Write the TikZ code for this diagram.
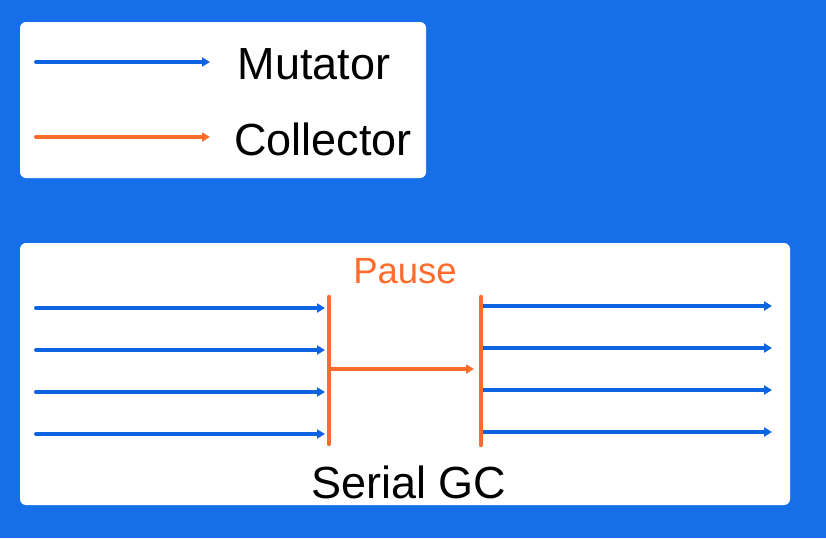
\documentclass[tikz,border=0pt]{standalone}
\usepackage{fontspec}
\setmainfont{Liberation Sans}
\usetikzlibrary{arrows.meta}
\definecolor{bgblue}{HTML}{166FE8}
\definecolor{arblue}{HTML}{0C64E3}
\definecolor{arorange}{HTML}{FF6B2B}
\tikzset{
  panel/.style={fill=white,draw=none,rounded corners=6pt},
  mut/.style={draw=arblue,line width=4pt,line cap=round,-{Triangle[length=8pt,width=9pt]}},
  col/.style={draw=arorange,line width=4pt,line cap=round,-{Triangle[length=8pt,width=9pt]}},
  bar/.style={draw=arorange,line width=4.5pt,line cap=round},
  bigtxt/.style={font=\fontsize{45}{54}\selectfont,text=black,inner sep=0pt},
}
\begin{document}
\begin{tikzpicture}[x=1pt,y=-1pt]
\fill[bgblue] (0,0) rectangle (826,538);
\useasboundingbox (0,0) rectangle (826,538);
% legend panel
\path[panel] (20,22) rectangle (426,178);
\coordinate (lm1) at (36,62); \coordinate (lm2) at (210,62);
\coordinate (lc1) at (36,137); \coordinate (lc2) at (210,137);
\draw[mut] (lm1) -- (lm2);
\draw[col] (lc1) -- (lc2);
\node[bigtxt,anchor=base] (mutator) at (314,79) {Mutator};
\node[bigtxt,anchor=base] (collector) at (323,155) {Collector};
% main panel
\path[panel] (20,243) rectangle (790,505);
\coordinate (b1t) at (329,297); \coordinate (b1b) at (329,444);
\coordinate (b2t) at (481,297); \coordinate (b2b) at (481,445);
\draw[bar] (b1t) -- (b1b);
\draw[bar] (b2t) -- (b2b);
\foreach \i/\y in {1/308,2/350,3/392,4/434}{
  \coordinate (l\i) at (36,\y);
  \coordinate (le\i) at (325,\y);
  \draw[mut] (l\i) -- (le\i);
}
\foreach \i/\y in {1/306,2/348,3/390,4/432}{
  \coordinate (r\i) at (483,\y);
  \coordinate (re\i) at (772,\y);
  \draw[mut,line cap=butt] (r\i) -- (re\i);
}
\coordinate (pm1) at (331,369); \coordinate (pm2) at (474,369);
\draw[col,line cap=butt] (pm1) -- (pm2);
\node[inner sep=0pt,anchor=base,text=arorange,font=\fontsize{36.5}{44}\selectfont] (pause) at (405,283) {Pause};
\node[bigtxt,anchor=base] (serial) at (409,498) {Serial GC};
\end{tikzpicture}
\end{document}
